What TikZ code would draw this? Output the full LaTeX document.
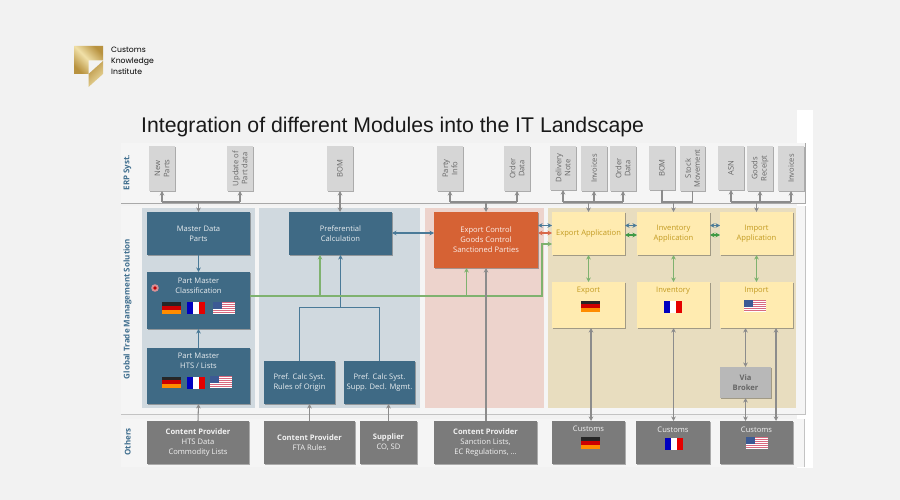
\documentclass[tikz,border=0pt]{standalone}
\usepackage{fontspec}
\usepackage{xcolor}
\setmainfont{Open Sans}
\newfontfamily\titlefont{Liberation Sans}
\newfontfamily\logofont{Poppins}
\usetikzlibrary{arrows.meta,shadows,fadings}
\definecolor{pagebg}{HTML}{F2F2F2}
\definecolor{panelbg}{HTML}{F5F5F5}
\definecolor{panelline}{HTML}{A9A9A9}
\definecolor{bluebox}{HTML}{3F6A85}
\definecolor{bluelink}{HTML}{4A7A98}
\definecolor{bluelabel}{HTML}{3F6E8E}
\definecolor{blueband}{HTML}{D0D9DF}
\definecolor{redband}{HTML}{EDD3CC}
\definecolor{sandband}{HTML}{E8DDBF}
\definecolor{orangebox}{HTML}{D66234}
\definecolor{yellowbox}{HTML}{FFEBB0}
\definecolor{yellowtext}{HTML}{C29A20}
\definecolor{greybox}{HTML}{7B7B7B}
\definecolor{lightbox}{HTML}{D6D6D6}
\definecolor{linkgrey}{HTML}{8C8C8C}
\definecolor{linkgreen}{HTML}{7FB26F}
\definecolor{darkgreen}{HTML}{3F9A45}
\definecolor{linkred}{HTML}{D9694A}
\definecolor{golddark}{HTML}{B8923F}
\definecolor{goldlight}{HTML}{F0E0A8}
\definecolor{usstripe}{HTML}{D8697F}
\definecolor{uscanton}{HTML}{3C5A94}
\tikzset{
  x=1pt,y=-1pt,
  softshadow/.style={drop shadow={shadow xshift=1pt,shadow yshift=-1pt,fill=black,opacity=.3}},
  modbox/.style={rectangle,inner sep=0pt,outer sep=0pt,anchor=north west,align=center,font=\fontsize{7.6}{10}\selectfont,softshadow},
  bluemod/.style={modbox,fill=bluebox,text=white!88!bluebox},
  yellowmod/.style={modbox,fill=yellowbox,text=yellowtext},
  greymod/.style={modbox,fill=greybox,text=white!90!greybox},
  erpdoc/.style={modbox,fill=lightbox},
  freelabel/.style={align=center,inner sep=0pt,font=\fontsize{7.6}{10}\selectfont},
  sidelabel/.style={rotate=90,font=\fontsize{8}{10}\selectfont\bfseries,text=bluelabel},
  glink/.style={draw=linkgrey,line width=1.05pt},
  bluelnk/.style={draw=bluelink,line width=1.05pt},
  greenlink/.style={draw=linkgreen,line width=1.05pt},
  gtip/.style={-{Stealth[length=4.5pt,width=4.5pt]}},
  gboth/.style={{Stealth[length=4.5pt,width=4.5pt]}-{Stealth[length=4.5pt,width=4.5pt]}},
}
% Small national flags, placed by their top-left corner
\newcommand{\flagDE}[2]{%
  \fill[black!85] (#1,#2) rectangle ++(19,3.9);
  \fill[red!80!black] (#1,#2+3.9) rectangle ++(19,3.9);
  \fill[orange!90!yellow] (#1,#2+7.8) rectangle ++(19,3.9);}
\newcommand{\flagFR}[2]{%
  \fill[blue!75!black] (#1,#2) rectangle ++(6,12);
  \fill[white] (#1+6,#2) rectangle ++(6,12);
  \fill[red!90!black] (#1+12,#2) rectangle ++(6,12);}
\newcommand{\flagUS}[2]{%
  \fill[white] (#1,#2) rectangle ++(22,12);
  \foreach \s in {0,2,4,6,8,10}{\fill[usstripe] (#1,#2+\s) rectangle ++(22,1.1);}
  \fill[uscanton] (#1,#2) rectangle ++(9,6.5);}
\newcommand{\hdline}[1]{{\bfseries #1}}
\begin{document}
\begin{tikzpicture}
\useasboundingbox (0,0) rectangle (900,500);
\fill[pagebg] (0,0) rectangle (900,500);
\fill[white] (797,110) rectangle (813,468);

% Logo
\shade[left color=golddark,right color=golddark,middle color=goldlight,shading angle=135]
  (74,46) -- (103,46) -- (103,60.5) -- (88.5,60.5) -- (88.5,74) -- (74,74) -- cycle;
\shade[left color=golddark,right color=goldlight,shading angle=45]
  (103,61) -- (103,74) -- (88.5,87) -- (88.5,74) -- cycle;
\node[anchor=north west,inner sep=0pt,align=left,font=\logofont\fontsize{7.7}{10.9}\selectfont,text=black] (logotext) at (111,47) {Customs\\Knowledge\\Institute};

% Title
\node[anchor=base west,inner sep=0pt,font=\titlefont\fontsize{21.25}{24}\selectfont,text=black!90] (title) at (141,133) {Integration of different Modules into the IT Landscape};

% Layer panels
\fill[panelbg] (121,143) rectangle (805,203);
\fill[panelbg] (121,206) rectangle (805,414);
\fill[panelbg] (121,419) rectangle (805,467);
\draw[panelline,line width=1pt] (121,203) -- (805,203) -- (805,143);
\draw[panelline!70,line width=1pt] (121,414) -- (805,414) -- (805,206);
\draw[panelline!70,line width=.7pt] (804,419) -- (804,467);

\node[sidelabel] (lerp) at (127.5,172.5) {ERP Syst.};
\node[sidelabel] (lgtm) at (127.5,309) {Global Trade Management Solution};
\node[sidelabel] (loth) at (127.5,442) {Others};

% Column bands
\fill[blueband] (142,208) rectangle (255,408);
\fill[blueband] (259,208) rectangle (420,408);
\fill[redband] (425,208) rectangle (544,408);
\fill[sandband] (548,208) rectangle (796,408);

% ERP documents
\foreach \nm/\xa/\xb/\ya/\yb/\txt in {
  a/149/175/146/191/{New\\Parts},
  b/227/253/146/191/{Update of\\Part data},
  c/327/353/146/191/{BOM},
  d/437/463/146/191/{Party\\Info},
  e/504/530/146/191/{Order\\Data},
  f/550/576/146/190/{Delivery\\Note},
  g/581/607/146/191/{Invoices},
  h/610/636/146/191/{Order\\Data},
  i/649/675/146/190/{BOM},
  j/680/705/146/191/{Stock\\Movement},
  k/718/744/146/190/{ASN},
  l/747/773/146/191/{Goods\\Receipt},
  m/778/804/146/191/{Invoices}}{
  \pgfmathsetmacro{\boxw}{\xb-\xa}\pgfmathsetmacro{\boxh}{\yb-\ya}
  \node[erpdoc,minimum width=\boxw pt,minimum height=\boxh pt] (doc\nm) at (\xa,\ya) {};
  \node[rotate=90,align=center,inner sep=0pt,font=\fontsize{7.6}{9.2}\selectfont,text=black!60] (doct\nm) at (doc\nm.center) {\txt};
}

% Blue modules
\node[bluemod,minimum width=103pt,minimum height=43pt] (master) at (147,212) {Master Data\\Parts};
\node[bluemod,minimum width=103pt,minimum height=57pt] (classif) at (147,272) {};
\node[freelabel,text=white!88!bluebox] (classift) at (198.5,285.5) {Part Master\\Classification};
\node[bluemod,minimum width=103pt,minimum height=56pt] (hts) at (147,348) {};
\node[freelabel,text=white!88!bluebox] (htst) at (198.5,360.5) {Part Master\\HTS / Lists};
\node[bluemod,minimum width=103pt,minimum height=43pt] (pref) at (289,212) {Preferential\\Calculation};
\node[bluemod,minimum width=71pt,minimum height=43pt] (roo) at (264,361) {Pref. Calc Syst.\\Rules of Origin};
\node[bluemod,minimum width=71pt,minimum height=43pt] (supp) at (344,361) {Pref. Calc Syst.\\Supp. Decl. Mgmt.};
\node[modbox,fill=orangebox,text=white!90!orangebox,minimum width=104pt,minimum height=56pt] (ctrl) at (434,212) {Export Control\\Goods Control\\Sanctioned Parties};

% Yellow modules
\node[yellowmod,minimum width=73pt,minimum height=43pt] (expapp) at (552,212) {\raisebox{-.8pt}{Export Application}};
\node[yellowmod,minimum width=73pt,minimum height=43pt] (invapp) at (637,212) {Inventory\\Application};
\node[yellowmod,minimum width=73pt,minimum height=43pt] (impapp) at (720,212) {Import\\Application};
\node[yellowmod,minimum width=73pt,minimum height=46pt] (exp) at (552,282) {};
\node[yellowmod,minimum width=73pt,minimum height=46pt] (inv) at (637,282) {};
\node[yellowmod,minimum width=73pt,minimum height=46pt] (imp) at (720,282) {};
\node[freelabel,text=yellowtext] (expt) at (588.5,290.5) {Export};
\node[freelabel,text=yellowtext] (invt) at (673,290.5) {Inventory};
\node[freelabel,text=yellowtext] (impt) at (756.5,290.5) {Import};
\node[modbox,fill=black!28,text=black!60,font=\fontsize{7.6}{10}\selectfont\bfseries,minimum width=51pt,minimum height=31pt] (broker) at (720,367) {Via\\Broker};

% Outside parties
\node[greymod,minimum width=102pt,minimum height=43pt] (cphts) at (147,421) {};
\node[freelabel,text=white!90!greybox] (cphtst) at (198,443) {\hdline{Content Provider}\\HTS Data\\Commodity Lists};
\node[greymod,minimum width=91pt,minimum height=43pt] (cpfta) at (264,421) {\hdline{Content Provider}\\FTA Rules};
\node[greymod,minimum width=57pt,minimum height=43pt] (suppl) at (360,421) {\hdline{Supplier}\\CO, SD};
\node[greymod,minimum width=103pt,minimum height=43pt] (cpsan) at (434,421) {};
\node[freelabel,text=white!90!greybox] (cpsant) at (485.5,443) {\hdline{Content Provider}\\Sanction Lists,\\EC Regulations, \dots};
\node[greymod,minimum width=73pt,minimum height=43pt] (cde) at (552,421) {};
\node[greymod,minimum width=74pt,minimum height=43pt] (cfr) at (636,421) {};
\node[greymod,minimum width=73pt,minimum height=43pt] (cus) at (720,421) {};
\node[freelabel,text=white!90!greybox] (cdet) at (588.5,429) {Customs};
\node[freelabel,text=white!90!greybox] (cfrt) at (673,429.5) {Customs};
\node[freelabel,text=white!90!greybox] (cust) at (756.5,429.5) {Customs};

% Flags
\flagDE{162}{302}\flagFR{187}{302}\flagUS{213}{302}
\flagDE{162}{376.5}\flagFR{187}{377}\flagUS{210}{376}
\flagDE{581}{300.5}\flagFR{664}{301}\flagUS{744}{300}
\flagDE{581}{437}\flagFR{665}{438}\flagUS{745.5}{437}

% Marker on the classification module
\fill[red!40,opacity=.8] (155,288) circle (3.8);
\fill[red!75!black] (155,288) circle (1.8);

% ERP buses
\coordinate (bus) at (0,202);
\draw[glink] (doca.south |- bus) -- (docb.south |- bus);
\draw[glink,gtip] (doca.south |- bus) -- (doca.south);
\draw[glink,gtip] (docb.south |- bus) -- (docb.south);
\draw[glink,gtip] (master.north |- bus) -- (master.north);
\draw[glink,gboth] (docc.south) -- (docc.south |- pref.north);
\draw[glink] (docd.south |- bus) -- (doce.south |- bus);
\draw[glink,gtip] (docd.south |- bus) -- (docd.south);
\draw[glink,gtip] (doce.south |- bus) -- (doce.south);
\draw[glink,gtip] (ctrl.north |- bus) -- (ctrl.north);
\draw[glink] (docf.south |- bus) -- (doch.south |- bus);
\draw[glink,gtip] (docf.south |- bus) -- (docf.south);
\draw[glink,gtip] (docg.south |- bus) -- (docg.south);
\draw[glink,gtip] (doch.south |- bus) -- (doch.south);
\draw[glink,gtip] (expapp.north |- bus) -- (expapp.north);
\draw[glink] (doci.south) -- (doci.south |- bus) -- (docj.south |- bus) -- (docj.south);
\draw[glink,gtip] (invapp.north |- bus) -- (invapp.north);
\draw[glink] (dock.south |- bus) -- (docm.south |- bus);
\draw[glink,gtip] (dock.south |- bus) -- (dock.south);
\draw[glink,gtip] (docl.south |- bus) -- (docl.south);
\draw[glink,gtip] (docm.south |- bus) -- (docm.south);
\draw[glink,gtip] (impapp.north |- bus) -- (impapp.north);

% Links inside the compliance layer
\coordinate (join) at (0,307.5);
\coordinate (greenrun) at (0,296);
\draw[bluelnk,gtip] (master.south) -- (classif.north);
\draw[bluelnk,gtip] (hts.north) -- (classif.south);
\draw[bluelnk] (roo.north) -- (roo.north |- join) -- (supp.north |- join) -- (supp.north);
\draw[bluelnk,gtip] (pref.south |- join) -- (pref.south);
\draw[bluelnk,gboth] (pref.east |- 0,233) -- (ctrl.west |- 0,233);
\draw[greenlink,gtip] (classif.east |- greenrun) -- (542,296) -- (542,244) -- (expapp.west |- 0,244);
\draw[greenlink,gtip] (320,296) -- (320,0 |- pref.south);
\draw[greenlink,gtip] (466.5,296) -- (466.5,0 |- ctrl.south);
\draw[bluelnk,gboth] (ctrl.east |- 0,225.5) -- (expapp.west |- 0,225.5);
\draw[draw=linkred,line width=1.05pt,gboth] (ctrl.east |- 0,233) -- (expapp.west |- 0,233);
\draw[bluelnk,gboth] (expapp.east |- 0,225.5) -- (invapp.west |- 0,225.5);
\draw[draw=darkgreen,line width=1.05pt,gboth] (expapp.east |- 0,235) -- (invapp.west |- 0,235);
\draw[bluelnk,gboth] (invapp.east |- 0,225.5) -- (impapp.west |- 0,225.5);
\draw[draw=darkgreen,line width=1.05pt,gboth] (invapp.east |- 0,235) -- (impapp.west |- 0,235);
\draw[greenlink,gboth] (expapp.south) -- (exp.north);
\draw[greenlink,gboth] (invapp.south) -- (inv.north);
\draw[greenlink,gboth] (impapp.south) -- (imp.north);

% Links from outside parties
\draw[glink,gtip] (cphts.north) -- (hts.south);
\draw[glink,gtip] (cpfta.north) -- (cpfta.north |- roo.south);
\draw[glink,gtip] (suppl.north) -- (suppl.north |- supp.south);
\draw[glink,gtip] (cpsan.north -| ctrl.south) -- (ctrl.south);
\draw[glink,gboth] (591,0 |- exp.south) -- (591,0 |- cde.north);
\draw[glink,gboth] (inv.south) -- (inv.south |- cfr.north);
\draw[glink,gboth] (745.5,0 |- imp.south) -- (745.5,0 |- broker.north);
\draw[glink,gboth] (745.5,0 |- broker.south) -- (745.5,0 |- cus.north);
\draw[glink,gboth] (776,0 |- imp.south) -- (776,0 |- cus.north);
\end{tikzpicture}
\end{document}
